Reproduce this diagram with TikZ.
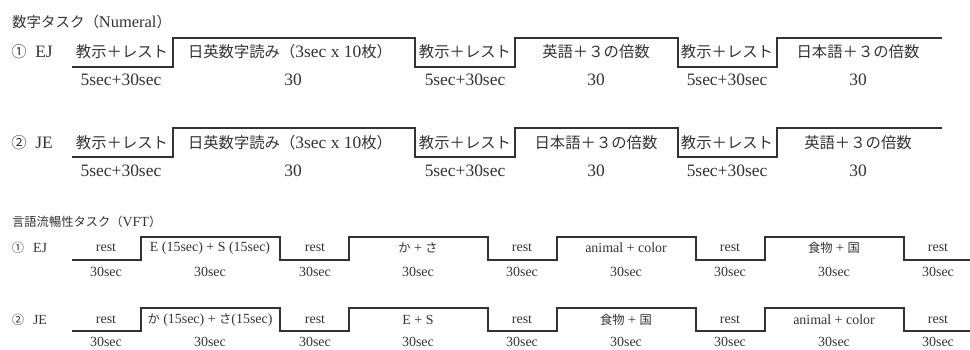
\documentclass[tikz,border=0pt]{standalone}
\usepackage{fontspec}
\setmainfont{Liberation Serif}
\newfontfamily\jpfont{Noto Sans CJK JP}[Scale=0.88]
\newcommand{\jp}[1]{{\jpfont #1}}
\definecolor{ink}{HTML}{333333}
\newcommand{\numSize}{\fontsize{17.5}{20}\selectfont}
\newcommand{\vftSize}{\fontsize{14}{16}\selectfont}
% step-shaped time line of the numeral task
\newcommand{\numWave}[2]{%
  \draw[wave] (72,#1) -| (173,#2) -| (415,#1) -| (515,#2) -| (678,#1) -| (777,#2) -- (942,#2);}
% step-shaped time line of the VFT task
\newcommand{\vftWave}[2]{%
  \draw[wave] (72,#1) -| (141,#2) -| (280,#1) -| (349,#2) -| (488,#1) -| (557,#2)
    -| (696,#1) -| (765,#2) -| (904,#1) -- (970,#1);}

\begin{document}
\begin{tikzpicture}[x=1bp, y=-1bp,
    wave/.style={draw=ink, line width=1.5pt},
    numlbl/.style={font=\numSize, text=ink, inner sep=0pt},
    vftlbl/.style={font=\vftSize, text=ink, inner sep=0pt},
    ttl/.style={text=ink, inner sep=0pt, anchor=west}]
   \useasboundingbox (0,0) rectangle (970,349);

   % numeral task
   \node[ttl, font=\fontsize{16.5}{19}\selectfont] (numTitle) at (12,22) {\jp{数字タスク（}Numeral\jp{）}};

   \numWave{67}{38}
   \node[numlbl] (numCircA) at (19,52) {\jp{①}};
   \node[numlbl] (numOrdA) at (44,52) {EJ};
   \node[numlbl] (numA1) at (122,52) {\jp{教示＋レスト}};
   \node[numlbl] (numA2) at (290,52) {\jp{日英数字読み（}3sec x 10\jp{枚）}};
   \node[numlbl] (numA3) at (465,52) {\jp{教示＋レスト}};
   \node[numlbl] (numA4) at (596,52) {\jp{英語＋３の倍数}};
   \node[numlbl] (numA5) at (727,52) {\jp{教示＋レスト}};
   \node[numlbl] (numA6) at (858,52) {\jp{日本語＋３の倍数}};
   \foreach \cx/\t [count=\i] in {121/5sec+30sec, 293/30, 465/5sec+30sec, 596/30, 727/5sec+30sec, 858/30}
      \node[numlbl] (numAt\i) at (\cx,80) {\t};

   \numWave{157}{128}
   \node[numlbl] (numCircB) at (19,143) {\jp{②}};
   \node[numlbl] (numOrdB) at (44,143) {JE};
   \node[numlbl] (numB1) at (122,143) {\jp{教示＋レスト}};
   \node[numlbl] (numB2) at (290,143) {\jp{日英数字読み（}3sec x 10\jp{枚）}};
   \node[numlbl] (numB3) at (465,143) {\jp{教示＋レスト}};
   \node[numlbl] (numB4) at (596,143) {\jp{日本語＋３の倍数}};
   \node[numlbl] (numB5) at (727,143) {\jp{教示＋レスト}};
   \node[numlbl] (numB6) at (858,143) {\jp{英語＋３の倍数}};
   \foreach \cx/\t [count=\i] in {121/5sec+30sec, 293/30, 465/5sec+30sec, 596/30, 727/5sec+30sec, 858/30}
      \node[numlbl] (numBt\i) at (\cx,171) {\t};

   % verbal fluency task
   \node[ttl, font=\fontsize{14}{17}\selectfont] (vftTitle) at (12,222) {\jp{言語流暢性タスク（}VFT\jp{）}};

   \vftWave{260}{237}
   \node[vftlbl] (vftCircA) at (18,248) {\jp{①}};
   \node[vftlbl] (vftOrdA) at (40,248) {EJ};
   \foreach \cx/\t [count=\i] in {106/rest, 210/{E (15sec) + S (15sec)}, 315/rest, 418/{\jp{か} + \jp{さ}},
         522/rest, 626/{animal + color}, 730/rest, 834/{\jp{食物} + \jp{国}}, 938/rest}
      \node[vftlbl] (vftA\i) at (\cx,248) {\t};
   \foreach \cx [count=\i] in {106,210,315,418,522,626,730,834,938}
      \node[vftlbl] (vftAt\i) at (\cx,272) {30sec};

   \vftWave{331}{308}
   \node[vftlbl] (vftCircB) at (18,320) {\jp{②}};
   \node[vftlbl] (vftOrdB) at (40,320) {JE};
   \foreach \cx/\t [count=\i] in {106/rest, 210/{\jp{か} (15sec) + \jp{さ}(15sec)}, 315/rest, 418/{E + S},
         522/rest, 626/{\jp{食物} + \jp{国}}, 730/rest, 834/{animal + color}, 938/rest}
      \node[vftlbl] (vftB\i) at (\cx,320) {\t};
   \foreach \cx [count=\i] in {106,210,315,418,522,626,730,834,938}
      \node[vftlbl] (vftBt\i) at (\cx,342) {30sec};
\end{tikzpicture}
\end{document}
